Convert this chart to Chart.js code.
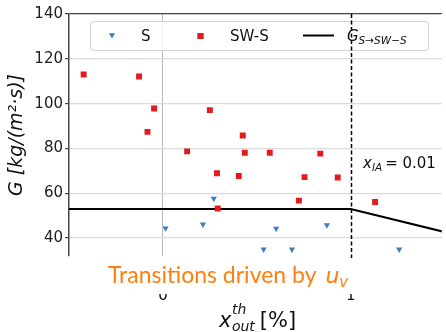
<!DOCTYPE html>
<html>
<head>
<meta charset="utf-8">
<script src="https://cdn.jsdelivr.net/npm/chart.js@4"></script>
<style>
  body { margin: 0; background: #fff; }
</style>
</head>
<body>
<canvas id="myChart" width="446" height="332"></canvas>
<script>
// S regime points (blue down triangles)
const sX = [0.014, 0.213, 0.271, 0.536, 0.603, 0.687, 0.873, 1.258];
const sY = [44.4, 46.1, 57.6, 35.0, 44.2, 35.0, 45.8, 35.0];

// SW-S regime points (red squares)
const swX = [-0.422, -0.127, -0.082, -0.047, 0.129, 0.250, 0.288, 0.292, 0.404, 0.425, 0.436, 0.569, 0.724, 0.754, 0.838, 0.931, 1.130];
const swY = [113.0, 112.1, 87.4, 97.8, 78.7, 97.1, 68.9, 53.2, 67.7, 85.8, 78.1, 78.1, 56.7, 67.2, 77.7, 67.0, 56.1];

// transition curve G S->SW-S
const gX = [-0.5, 1.0, 1.5];
const gY = [53, 53, 42.7];

// ticks
const yTicks = [40, 60, 80, 100, 120, 140];
const xTicks = [0, 1];

const blue = '#3a7fc0';
const red = '#e41a1c';
const orange = '#ff7f0e';

// pair x and y arrays into points
function pts(xs, ys) {
    return xs.map((x, i) => ({ x: x, y: ys[i] }));
}

// draws text pieces one after the other, returns end x
function runs(ctx, x, y, parts) {
    for (const p of parts) {
        ctx.font = p.f;
        ctx.fillText(p.t, x, y + (p.dy || 0));
        x += ctx.measureText(p.t).width + (p.gap || 0);
    }
    return x;
}

// everything matplotlib had that chart.js can't do by itself
const extras = {
    id: 'extras',
    afterDraw(chart) {
        const ctx = chart.ctx;
        const xs = chart.scales.x;
        const area = chart.chartArea;
        ctx.save();
        ctx.textBaseline = 'alphabetic';
        ctx.textAlign = 'left';

        // legend box
        ctx.fillStyle = 'rgba(255,255,255,0.8)';
        ctx.strokeStyle = '#d4d4d4';
        ctx.lineWidth = 1;
        ctx.beginPath();
        ctx.roundRect(90.5, 21.5, 338, 29, 3);
        ctx.fill();
        ctx.stroke();

        Chart.helpers.drawPoint(ctx, { pointStyle: 'triangle', radius: 3.6, rotation: 180 }, 112, 35);
        ctx.fillStyle = blue;
        ctx.fill();
        Chart.helpers.drawPoint(ctx, { pointStyle: 'rect', radius: 4.2, rotation: 0 }, 200.5, 36);
        ctx.fillStyle = red;
        ctx.fill();
        ctx.strokeStyle = '#000';
        ctx.lineWidth = 2;
        ctx.beginPath();
        ctx.moveTo(303, 35.5);
        ctx.lineTo(334, 35.5);
        ctx.stroke();

        ctx.fillStyle = '#111';
        const ds = chart.data.datasets;
        runs(ctx, 141, 40.5, [{ t: ds[0].label, f: '15px "DejaVu Sans"' }]);
        runs(ctx, 230, 40.5, [{ t: ds[1].label, f: '15px "DejaVu Sans"' }]);
        runs(ctx, 347, 40.5, [
            { t: 'G', f: 'italic 15px "DejaVu Sans"' },
            { t: 'S\u2192SW\u2212S', f: 'italic 10.5px "DejaVu Sans"', dy: 3 }
        ]);

        // dashed line at x = 1
        const px1 = Math.round(xs.getPixelForValue(1)) + 0.5;
        ctx.strokeStyle = '#000';
        ctx.lineWidth = 1.5;
        ctx.setLineDash([4, 2.5]);
        ctx.beginPath();
        ctx.moveTo(px1, area.top);
        ctx.lineTo(px1, area.bottom + 3);
        ctx.stroke();
        ctx.setLineDash([]);

        // x_IA annotation
        ctx.fillStyle = '#111';
        runs(ctx, 363, 167.5, [
            { t: 'x', f: 'italic 15px "DejaVu Sans"' },
            { t: 'IA', f: 'italic 10.5px "DejaVu Sans"', dy: 3, gap: 3 },
            { t: '= 0.01', f: '15px "DejaVu Sans"' }
        ]);

        // white box with orange note
        ctx.fillStyle = '#fff';
        ctx.fillRect(100, area.bottom + 2, 260, 36);
        ctx.fillStyle = orange;
        runs(ctx, 108, 283, [
            { t: 'Transitions driven by ', f: '23px Lato', gap: 3 },
            { t: 'u', f: 'italic 22px "DejaVu Sans"' },
            { t: 'v', f: 'italic 15px "DejaVu Sans"', dy: 4 }
        ]);

        // x axis title with stacked sup/sub
        ctx.fillStyle = '#111';
        let x = 219;
        const base = 327;
        ctx.font = 'italic 21px "DejaVu Sans"';
        ctx.fillText('x', x, base);
        x += ctx.measureText('x').width + 0.5;
        ctx.font = 'italic 14px "DejaVu Sans"';
        ctx.fillText('th', x, base - 13);
        ctx.fillText('out', x, base + 4);
        x += ctx.measureText('out').width + 5;
        ctx.font = '21px "DejaVu Sans"';
        ctx.fillText('[%]', x, base);

        ctx.restore();
    }
};

Chart.defaults.font.family = '"DejaVu Sans"';
Chart.defaults.color = '#111';

const chart = new Chart(document.getElementById('myChart').getContext('2d'), {
    type: 'scatter',
    data: {
        datasets: [
            {
                label: 'S',
                data: pts(sX, sY),
                pointStyle: 'triangle',
                rotation: 180,
                pointRadius: 3.6,
                backgroundColor: blue,
                borderWidth: 0
            },
            {
                label: 'SW-S',
                data: pts(swX, swY),
                pointStyle: 'rect',
                pointRadius: 4.2,
                backgroundColor: red,
                borderWidth: 0
            },
            {
                label: 'G S\u2192SW\u2212S',
                data: pts(gX, gY),
                showLine: true,
                borderColor: '#000',
                borderWidth: 2,
                pointRadius: 0
            }
        ]
    },
    options: {
        responsive: false,
        animation: false,
        layout: { padding: { top: 14, right: 0, left: 0, bottom: 0 } },
        plugins: {
            legend: { display: false },
            tooltip: { enabled: false }
        },
        scales: {
            x: {
                type: 'linear',
                min: -0.5,
                max: 1.485,
                afterFit: (s) => { s.height = 76; },
                afterBuildTicks: (s) => { s.ticks = xTicks.map(v => ({ value: v })); },
                grid: {
                    color: (c) => c.tick && c.tick.value === 0 ? '#b8b8b8' : 'rgba(0,0,0,0)',
                    lineWidth: 1,
                    drawTicks: false
                },
                border: { display: false },
                ticks: {
                    font: { size: 15 },
                    padding: 31,
                    maxRotation: 0,
                    callback: (v) => String(v)
                }
            },
            y: {
                type: 'linear',
                min: 32,
                max: 140,
                afterFit: (s) => { s.width = 69; },
                afterBuildTicks: (s) => { s.ticks = yTicks.map(v => ({ value: v })); },
                grid: {
                    color: (c) => c.tick && c.tick.value === 140 ? '#444' : '#dcdcdc',
                    lineWidth: 1.2,
                    tickColor: '#444',
                    tickLength: 4
                },
                border: { color: '#444', width: 1.5 },
                ticks: {
                    font: { size: 15 },
                    padding: 2,
                    color: '#222'
                },
                title: {
                    display: true,
                    text: 'G [kg/(m\u00b2\u00b7s)]',
                    font: { size: 19, style: 'italic' },
                    padding: { top: 6, bottom: 0 },
                    color: '#111'
                }
            }
        }
    },
    plugins: [extras]
});
</script>
</body>
</html>
